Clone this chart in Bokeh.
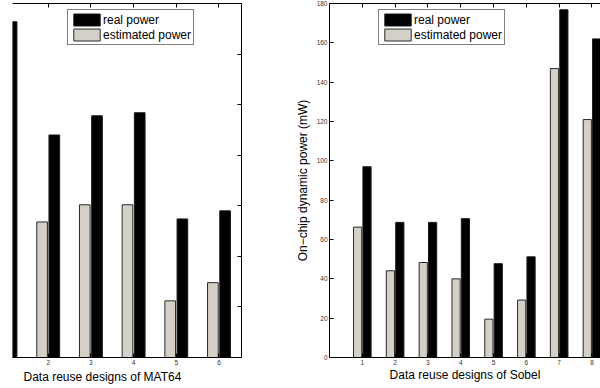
from bokeh.plotting import figure
from bokeh.models import (Range1d, LinearAxis, FixedTicker, Legend, LegendItem,
                          Title, ColumnDataSource)
from bokeh.layouts import row
from bokeh.transform import dodge
from bokeh.embed import file_html
from bokeh.resources import INLINE

# ---------------- data ----------------
mat64_designs = [1, 2, 3, 4, 5, 6]
mat64_real = [332, 220, 239, 242, 137, 145]
mat64_estimated = [float("nan"), 134, 151, 151, 56, 74]
mat64_yticks = [0, 50, 100, 150, 200, 250, 300, 350]

sobel_designs = [1, 2, 3, 4, 5, 6, 7, 8]
sobel_real = [97.0, 68.7, 68.7, 70.6, 47.7, 51.2, 176.8, 162.0]
sobel_estimated = [66.3, 44.1, 48.3, 40.0, 19.5, 29.2, 146.9, 121.0]
sobel_yticks = [0, 20, 40, 60, 80, 100, 120, 140, 160, 180]

series_labels = ["real power", "estimated power"]
mat64_xlabel = "Data reuse designs of MAT64"
sobel_xlabel = "Data reuse designs of Sobel"
sobel_ylabel = "On\u2212chip dynamic power (mW)"

# ---------------- style ----------------
FONT = "Liberation Sans"
EST_COLOR = "#d4d0c8"
REAL_COLOR = "#000000"
OFFSET = 0.143
BAR_W = 0.25
TICK_FONT = "6.5px"
TICK_COLOR = "#333333"


def style_axis(ax, ticks, show_labels=True):
    ax.ticker = FixedTicker(ticks=ticks)
    ax.major_tick_in = 4
    ax.major_tick_out = 0
    ax.minor_tick_in = 0
    ax.minor_tick_out = 0
    ax.axis_line_color = "black"
    ax.axis_line_width = 1
    ax.major_tick_line_color = "black"
    ax.major_tick_line_width = 1
    ax.major_label_text_font = FONT
    ax.axis_label_text_font = FONT
    ax.axis_label_text_font_style = "normal"
    ax.axis_label_text_font_size = "12px"
    ax.axis_label_text_color = "black"
    if show_labels:
        ax.major_label_text_font_size = TICK_FONT
        ax.major_label_text_color = TICK_COLOR
        ax.major_label_standoff = 2
    else:
        ax.major_label_text_font_size = "0px"
        ax.major_label_text_color = None
        ax.major_label_standoff = 0


def make_legend(r_real, r_est, loc):
    leg = Legend(items=[LegendItem(label=series_labels[0], renderers=[r_real]),
                        LegendItem(label=series_labels[1], renderers=[r_est])],
                 location=loc)
    leg.glyph_width = 33
    leg.glyph_height = 15
    leg.label_height = 15
    leg.label_standoff = 0
    leg.padding = 2
    leg.spacing = 0
    leg.margin = 0
    leg.border_line_color = "black"
    leg.border_line_width = 1
    leg.background_fill_color = "white"
    leg.background_fill_alpha = 1
    leg.label_text_font = FONT
    leg.label_text_font_size = "12px"
    leg.label_text_color = "black"
    return leg


def base_fig(width, xr, yr, mb_left, mb_right):
    p = figure(width=width, height=388, x_range=xr, y_range=yr,
               output_backend="svg", toolbar_location=None,
               x_axis_location=None, y_axis_location=None,
               min_border_left=mb_left, min_border_right=mb_right,
               min_border_top=3, min_border_bottom=31)
    p.outline_line_color = None
    p.background_fill_color = "white"
    p.border_fill_color = "white"
    p.xgrid.visible = False
    p.ygrid.visible = False
    return p


# ---------------- left: MAT64 ----------------
src1 = ColumnDataSource(dict(design=mat64_designs, real=mat64_real,
                             est=mat64_estimated))
p1 = base_fig(280, Range1d(1.164, 6.527), Range1d(0, 350), 12, 39)
r1e = p1.vbar(x=dodge("design", -OFFSET, range=p1.x_range), top="est", width=BAR_W,
              source=src1, fill_color=EST_COLOR, line_color="#2a2a2a", line_width=1)
r1r = p1.vbar(x=dodge("design", OFFSET, range=p1.x_range), top="real", width=BAR_W,
              source=src1, fill_color=REAL_COLOR, line_color="#1a1a1a", line_width=1)

ax = LinearAxis()
style_axis(ax, mat64_designs, True)
p1.add_layout(ax, "below")
ax = LinearAxis()
style_axis(ax, mat64_designs, False)
p1.add_layout(ax, "above")
ax = LinearAxis()
style_axis(ax, mat64_yticks, False)
p1.add_layout(ax, "right")

p1.add_layout(make_legend(r1r, r1e, (55, 312)))
p1.add_layout(Title(text=mat64_xlabel, align="left", offset=11, standoff=0,
                    text_font=FONT, text_font_size="12px", text_font_style="normal",
                    text_color="black"), "below")

# ---------------- right: Sobel ----------------
src2 = ColumnDataSource(dict(design=sobel_designs, real=sobel_real,
                             est=sobel_estimated))
p2 = base_fig(320, Range1d(0, 8.26), Range1d(0, 180), 49, 0)
r2e = p2.vbar(x=dodge("design", -OFFSET, range=p2.x_range), top="est", width=BAR_W,
              source=src2, fill_color=EST_COLOR, line_color="#2a2a2a", line_width=1)
r2r = p2.vbar(x=dodge("design", OFFSET, range=p2.x_range), top="real", width=BAR_W,
              source=src2, fill_color=REAL_COLOR, line_color="#1a1a1a", line_width=1)

ax = LinearAxis(axis_label=sobel_xlabel)
style_axis(ax, sobel_designs, True)
ax.axis_label_standoff = 0
p2.add_layout(ax, "below")
ax = LinearAxis()
style_axis(ax, sobel_designs, False)
p2.add_layout(ax, "above")
ax = LinearAxis(axis_label=sobel_ylabel)
style_axis(ax, sobel_yticks, True)
ax.axis_label_standoff = 4
p2.add_layout(ax, "left")

p2.add_layout(make_legend(r2r, r2e, (49, 312)))

layout = row(p1, p2)
open("out.html", "w").write(file_html(layout, INLINE))
